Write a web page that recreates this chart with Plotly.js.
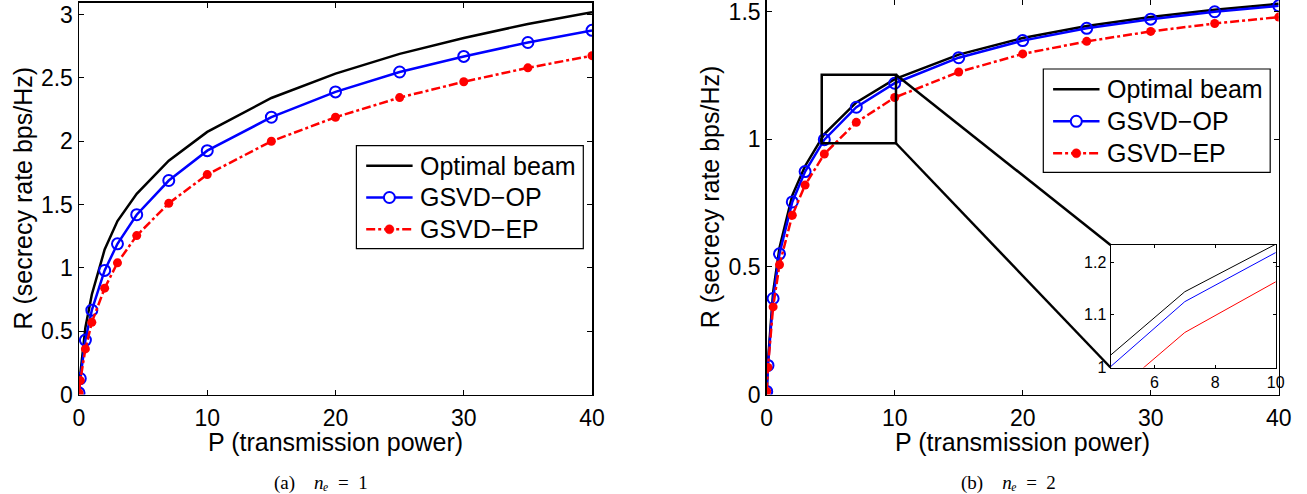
<!DOCTYPE html>
<html><head><meta charset="utf-8">
<script src="https://cdn.plot.ly/plotly-3.0.1.min.js"></script>
<style>html,body{margin:0;padding:0;background:#fff;overflow:hidden}#chart{width:1307px;height:494px}</style>
</head><body><div id="chart"></div>
<script>
// ---- data ----
const powerLevels = [0, 0.1, 0.5, 1, 2, 3, 4.5, 7, 10, 15, 20, 25, 30, 35, 40];
// (a) n_e = 1
const optimalNe1 = [0.005, 0.16, 0.53, 0.79, 1.145, 1.37, 1.585, 1.847, 2.074, 2.342, 2.534, 2.69, 2.816, 2.926, 3.02];
const gsvdOpNe1  = [0.013, 0.126, 0.43, 0.666, 0.98, 1.19, 1.42, 1.69, 1.926, 2.19, 2.39, 2.547, 2.67, 2.78, 2.876];
const gsvdEpNe1  = [0.013, 0.11, 0.36, 0.57, 0.84, 1.04, 1.255, 1.51, 1.737, 2.0, 2.19, 2.345, 2.47, 2.58, 2.676];
// (b) n_e = 2
const optimalNe2 = [0.01, 0.13, 0.40, 0.575, 0.78, 0.895, 1.02, 1.144, 1.235, 1.331, 1.396, 1.443, 1.478, 1.507, 1.530];
const gsvdOpNe2  = [0.012, 0.114, 0.376, 0.551, 0.754, 0.873, 0.998, 1.125, 1.219, 1.319, 1.386, 1.434, 1.47, 1.499, 1.522];
const gsvdEpNe2  = [0.012, 0.106, 0.343, 0.508, 0.702, 0.82, 0.942, 1.066, 1.163, 1.263, 1.334, 1.383, 1.422, 1.453, 1.478];
const seriesNames = ['Optimal beam', 'GSVD\u2212OP', 'GSVD\u2212EP'];
const xTicks = [0, 10, 20, 30, 40];
const yTicksA = [0, 0.5, 1, 1.5, 2, 2.5, 3];
const yTicksB = [0, 0.5, 1, 1.5];
const insetXTicks = [6, 8, 10];
const insetYTicks = [1, 1.1, 1.2];
const captions = ['(a)\u2003<i>n\u2091</i>\u2002=\u20021', '(b)\u2003<i>n\u2091</i>\u2002=\u20022'];
const xTitle = 'P (transmission power)';
const yTitle = 'R (secrecy rate bps/Hz)';
// zoom region shown in inset (panel b)
const zoomBox = {x0: 4.3, x1: 10.1, y0: 0.984, y1: 1.2526};

// ---- geometry ----
const W = 1307, H = 494;
const px = v => v / W, py = v => 1 - v / H;
const domA = {x: [px(79), px(592)], y: [py(394.5), py(2.5)]};
const domB = {x: [px(766.7), px(1278.7)], y: [py(394.5), py(0)]};
const domI = {x: [px(1110.5), px(1275.7)], y: [py(367.5), py(245)]};
const rangeA = {x: [0, 40], y: [0, 3.096]};
const rangeB = {x: [0, 40], y: [0, 1.545]};
const rangeI = {x: [4.55, 10], y: [0.999, 1.2335]};
// legend boxes in pixels: left, top, right, bottom, row pitch
const legA = {l: 356.4, t: 145.7, r: 583.3, b: 248.7, row0: 165.7, pitch: 31.8};
const legB = {l: 1043.3, t: 69, r: 1270.2, b: 172.3, row0: 89.3, pitch: 32.0};

const FONT = 'Liberation Sans, Arial, Helvetica, sans-serif';
const SERIF = 'Liberation Serif, DejaVu Serif, Times New Roman, serif';
const colors = ['#000000', '#0000ff', '#ff0000'];
const lineStyles = [
  {color: colors[0], width: 2.5},
  {color: colors[1], width: 2.5},
  {color: colors[2], width: 2.5, dash: 'dashdot'}
];
const markerStyles = [
  null,
  {symbol: 'circle-open', size: 11, color: colors[1], line: {width: 2, color: colors[1]}},
  {symbol: 'circle', size: 9, color: colors[2]}
];

function mainTraces(ys, xa, ya) {
  return ys.map((y, i) => {
    const t = {x: powerLevels, y: y, xaxis: xa, yaxis: ya, name: seriesNames[i],
               mode: markerStyles[i] ? 'lines+markers' : 'lines', line: lineStyles[i], showlegend: false};
    if (markerStyles[i]) t.marker = markerStyles[i];
    return t;
  });
}
const traces = [].concat(
  mainTraces([optimalNe1, gsvdOpNe1, gsvdEpNe1], 'x', 'y'),
  mainTraces([optimalNe2, gsvdOpNe2, gsvdEpNe2], 'x2', 'y2'),
  [optimalNe2, gsvdOpNe2, gsvdEpNe2].map((ys, i) => ({
    x: powerLevels, y: ys, xaxis: 'x3', yaxis: 'y3', mode: 'lines', showlegend: false, name: seriesNames[i],
    line: {color: colors[i], width: 1}
  }))
);

function axis(extra) {
  return Object.assign({
    showline: true, linecolor: '#000', linewidth: 1.5, mirror: 'ticks', ticks: 'inside',
    ticklen: 5, tickwidth: 1, tickcolor: '#000', showgrid: false, zeroline: false,
    ticklabeloverflow: 'allow',
    tickfont: {family: FONT, size: 23, color: '#000'}, fixedrange: true
  }, extra);
}

function toPaperB(x, y) {
  return [domB.x[0] + (x - rangeB.x[0]) / (rangeB.x[1] - rangeB.x[0]) * (domB.x[1] - domB.x[0]),
          domB.y[0] + (y - rangeB.y[0]) / (rangeB.y[1] - rangeB.y[0]) * (domB.y[1] - domB.y[0])];
}
const rTop = toPaperB(zoomBox.x1, zoomBox.y1);
const rBot = toPaperB(zoomBox.x1, zoomBox.y0);

const annotations = [
  {text: xTitle, xref: 'paper', yref: 'paper', x: (domA.x[0] + domA.x[1]) / 2, y: py(442), showarrow: false,
   xanchor: 'center', yanchor: 'middle', font: {family: FONT, size: 25, color: '#000'}},
  {text: xTitle, xref: 'paper', yref: 'paper', x: (domB.x[0] + domB.x[1]) / 2, y: py(442), showarrow: false,
   xanchor: 'center', yanchor: 'middle', font: {family: FONT, size: 25, color: '#000'}},
  {text: yTitle, xref: 'paper', yref: 'paper', x: px(22), y: (domA.y[0] + domA.y[1]) / 2, textangle: -90, showarrow: false,
   xanchor: 'center', yanchor: 'middle', font: {family: FONT, size: 25, color: '#000'}},
  {text: yTitle, xref: 'paper', yref: 'paper', x: px(710), y: (domB.y[0] + domB.y[1]) / 2, textangle: -90, showarrow: false,
   xanchor: 'center', yanchor: 'middle', font: {family: FONT, size: 25, color: '#000'}},
  {text: captions[0], xref: 'paper', yref: 'paper', x: px(321), y: py(483), showarrow: false,
   xanchor: 'center', yanchor: 'middle', font: {family: SERIF, size: 19, color: '#000'}},
  {text: captions[1], xref: 'paper', yref: 'paper', x: px(1009), y: py(483), showarrow: false,
   xanchor: 'center', yanchor: 'middle', font: {family: SERIF, size: 19, color: '#000'}}
];

const shapes = [
  {type: 'rect', xref: 'x2', yref: 'y2', x0: zoomBox.x0, x1: zoomBox.x1, y0: zoomBox.y0, y1: zoomBox.y1,
   line: {color: '#000', width: 2.5}},
  {type: 'line', xref: 'paper', yref: 'paper', x0: rTop[0], y0: rTop[1], x1: domI.x[0], y1: domI.y[1],
   line: {color: '#000', width: 2.5}},
  {type: 'line', xref: 'paper', yref: 'paper', x0: rBot[0], y0: rBot[1], x1: domI.x[0], y1: domI.y[0],
   line: {color: '#000', width: 2.5}}
];

// legend boxes (drawn with shapes + annotations so that sizes match the figure)
function addLegend(L) {
  shapes.push({type: 'rect', xref: 'paper', yref: 'paper', x0: px(L.l), x1: px(L.r), y0: py(L.b), y1: py(L.t),
               fillcolor: '#fff', line: {color: '#000', width: 1.2}});
  const s0 = L.l + 9.8, s1 = L.l + 56.2, sc = (s0 + s1) / 2, tx = L.l + 61.6;
  seriesNames.forEach((nm, i) => {
    const ry = L.row0 + i * L.pitch;
    shapes.push({type: 'line', xref: 'paper', yref: 'paper', x0: px(s0), x1: px(s1), y0: py(ry), y1: py(ry),
                 line: lineStyles[i]});
    const m = markerStyles[i];
    if (m) {
      const r = m.size / 2;
      shapes.push({type: 'circle', xref: 'paper', yref: 'paper', x0: px(sc - r), x1: px(sc + r), y0: py(ry + r), y1: py(ry - r),
                   fillcolor: m.symbol === 'circle' ? m.color : '#fff',
                   line: {color: m.color, width: m.symbol === 'circle' ? 0.5 : m.line.width}});
    }
    annotations.push({text: nm, xref: 'paper', yref: 'paper', x: px(tx), y: py(ry), showarrow: false,
                      xanchor: 'left', yanchor: 'middle', font: {family: FONT, size: 25, color: '#000'}});
  });
}
addLegend(legA);
addLegend(legB);

const layout = {
  width: W, height: H, margin: {l: 0, r: 0, t: 0, b: 0, pad: 0},
  paper_bgcolor: '#fff', plot_bgcolor: '#fff', showlegend: false, hovermode: false,
  xaxis: axis({domain: domA.x, range: rangeA.x, tickvals: xTicks, anchor: 'y', ticklabelstandoff: 2}),
  yaxis: axis({domain: domA.y, range: rangeA.y, tickvals: yTicksA, anchor: 'x'}),
  xaxis2: axis({domain: domB.x, range: rangeB.x, tickvals: xTicks, anchor: 'y2', ticklabelstandoff: 2}),
  yaxis2: axis({domain: domB.y, range: rangeB.y, tickvals: yTicksB, anchor: 'x2'}),
  xaxis3: axis({domain: domI.x, range: rangeI.x, tickvals: insetXTicks, anchor: 'y3', linewidth: 1, ticklen: 3,
               tickfont: {family: FONT, size: 16, color: '#000'}}),
  yaxis3: axis({domain: domI.y, range: rangeI.y, tickvals: insetYTicks, anchor: 'x3', linewidth: 1, ticklen: 3,
               tickfont: {family: FONT, size: 16, color: '#000'}}),
  annotations: annotations,
  shapes: shapes
};

Plotly.newPlot('chart', traces, layout, {staticPlot: true, displayModeBar: false});
</script></body></html>
